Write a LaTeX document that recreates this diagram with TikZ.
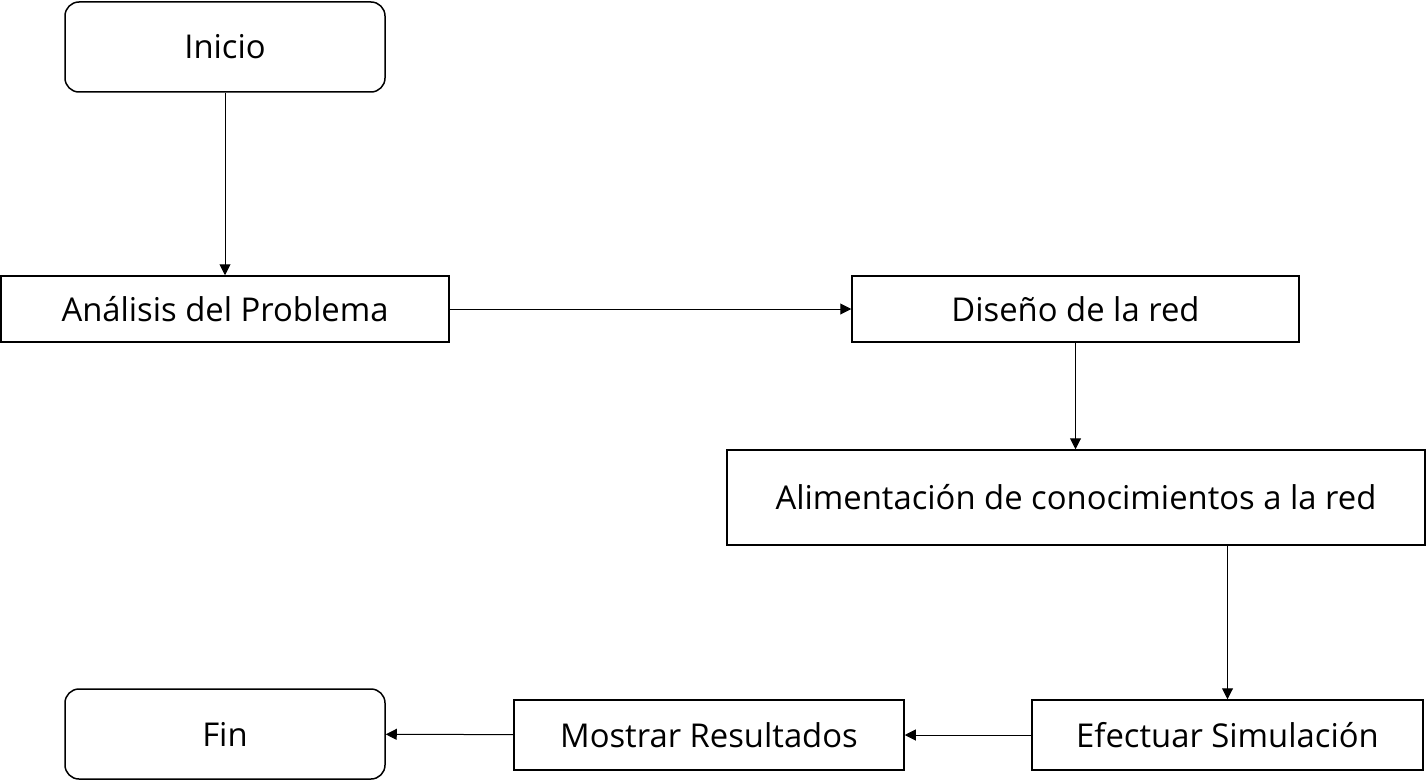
\documentclass[tikz,border=0pt]{standalone}
\usepackage{fontspec}
\setmainfont{Open Sans}
\usetikzlibrary{arrows.meta}
\begin{document}
\begin{tikzpicture}[x=1pt,y=-1pt,
  box/.style={draw=black,line width=1.5pt,fill=white,inner sep=0pt,font=\fontsize{32.8}{38}\selectfont},
  rbox/.style={box,rounded corners=14pt},
  conn/.style={draw=black,line width=1pt,-{Triangle[length=11pt,width=11pt]}}]
\useasboundingbox (0,0) rectangle (1427,781);
\node[rbox,minimum width=320pt,minimum height=90pt] (inicio) at (225,47) {Inicio};
\node[box,minimum width=448pt,minimum height=66pt] (analisis) at (225,309) {Análisis del Problema};
\node[box,minimum width=447pt,minimum height=66pt] (diseno) at (1075.5,309) {Diseño de la red};
\node[box,minimum width=698pt,minimum height=95pt] (alim) at (1076,497.5) {Alimentación de conocimientos a la red};
\node[box,minimum width=391pt,minimum height=70pt] (efect) at (1227.5,735) {Efectuar Simulación};
\node[box,minimum width=390pt,minimum height=70pt] (mostrar) at (709,735) {Mostrar Resultados};
\node[rbox,minimum width=320pt,minimum height=90pt] (fin) at (225,734) {Fin};
\draw[conn] (inicio) -- (analisis);
\draw[conn] (analisis) -- (diseno);
\draw[conn] (diseno.south) -- (diseno.south |- alim.north);
\draw[conn] (alim.south -| efect.north) -- (efect.north);
\draw[conn] (efect) -- (mostrar);
\draw[conn] (mostrar) -- (fin);
\end{tikzpicture}
\end{document}
